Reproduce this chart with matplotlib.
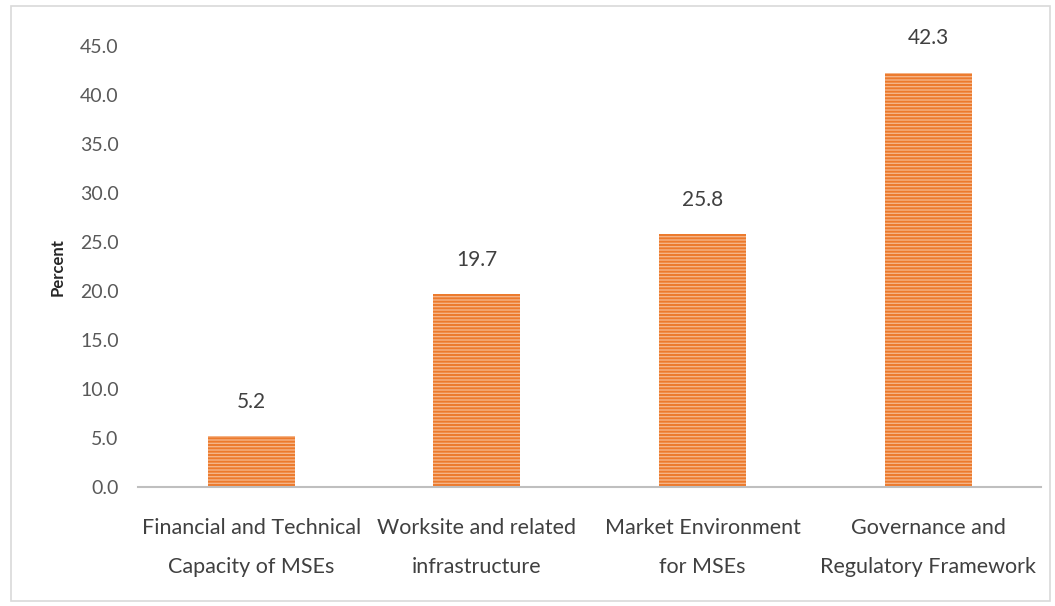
import matplotlib.pyplot as plt
from matplotlib.patches import Rectangle

categories = ["Financial and Technical\nCapacity of MSEs",
              "Worksite and related\ninfrastructure",
              "Market Environment\nfor MSEs",
              "Governance and\nRegulatory Framework"]
values = [5.2, 19.7, 25.8, 42.3]
yticks = [0, 5, 10, 15, 20, 25, 30, 35, 40, 45]

plt.rcParams['font.family'] = ['Lato', 'DejaVu Sans']
plt.rcParams['hatch.color'] = '#EC7A2C'
plt.rcParams['hatch.linewidth'] = 1.4

fig = plt.figure(figsize=(10.55, 6.06), dpi=100)
ax = fig.add_axes([0.131, 0.196, 0.856, 0.728])

x = range(len(categories))
bars = ax.bar(x, values, width=0.385, color='#F5B487', hatch='-----',
              linewidth=0)

for xi, v in zip(x, values):
    ax.text(xi, v + 2.5, f"{v:.1f}", ha='center', va='bottom',
            fontsize=15, color='#404040')

ax.set_xlim(-0.5, len(categories) - 0.5)
ax.set_ylim(0, 45)
ax.set_yticks(yticks)
ax.set_yticklabels([f"{t:.1f}" for t in yticks], fontsize=14, color='#595959')
ax.set_xticks(list(x))
ax.set_xticklabels(categories, fontsize=15.5, color='#404040', linespacing=2.2)
ax.tick_params(length=0)
ax.tick_params(axis='x', pad=22)
ax.tick_params(axis='y', pad=14)

for s in ['top', 'right', 'left']:
    ax.spines[s].set_visible(False)
ax.spines['bottom'].set_color('#BFBFBF')
ax.spines['bottom'].set_linewidth(1.5)

fig.text(0.055, 0.56, "Percent", rotation=90, fontsize=12, fontweight='bold',
         ha='center', va='center', color='#262626')

# frame round the chart
fig.patches.append(Rectangle((0.01, 0.008), 0.985, 0.982, transform=fig.transFigure,
                             fill=False, edgecolor='#D9D9D9', linewidth=1.2))

fig.savefig("out.png", dpi=100)
